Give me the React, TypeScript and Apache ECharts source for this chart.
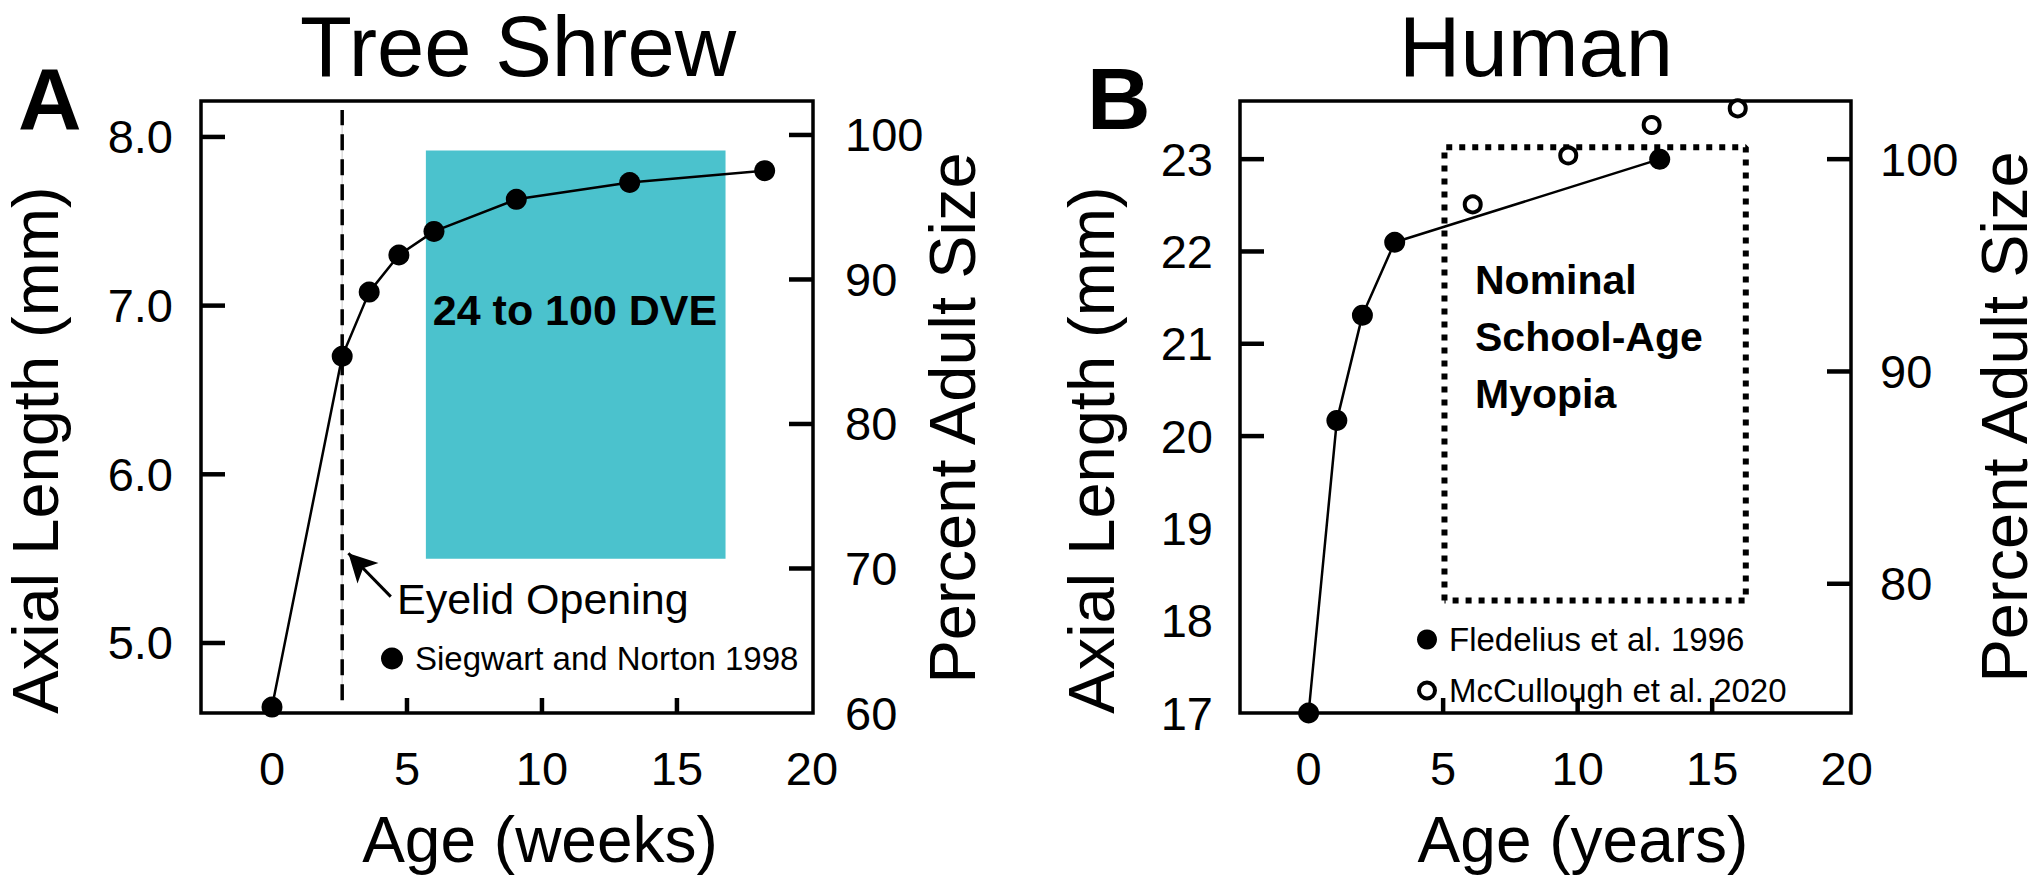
import React, { useEffect, useRef } from "react";
import * as echarts from "echarts";

// ---------- data ----------
const shrewAgeWeeks = [0, 2.6, 3.6, 4.7, 6.0, 9.05, 13.25, 18.25];
const shrewAxialMm = [4.62, 6.7, 7.08, 7.3, 7.44, 7.63, 7.73, 7.8];
const eyelidOpeningWeek = 2.6;
const eyelidLineMm = [4.66, 8.16];
const dveWindowWeeks = [5.7, 16.8];
const dveWindowMm = [5.5, 7.92];
const arrowFrom = [4.4, 5.275];
const arrowTo = [2.83, 5.532];

const fledeliusAgeYears = [0, 1.05, 2.0, 3.2, 13.05];
const fledeliusAxialMm = [17.0, 20.17, 21.31, 22.1, 23.0];
const mcculloughAgeYears = [6.1, 9.65, 12.75, 15.95];
const mcculloughAxialMm = [22.51, 23.04, 23.37, 23.55];
const myopiaBoxYears = [5.05, 16.25];
const myopiaBoxMm = [18.22, 23.13];

const xTickLabels = [0, 5, 10, 15, 20];
const xTickMarks = [5, 10, 15];
const shrewMmTicks = [5, 6, 7, 8];
const shrewPctLabels = [60, 70, 80, 90, 100];
const shrewPctTicks = [70, 80, 90, 100];
const humanMmLabels = [17, 18, 19, 20, 21, 22, 23];
const humanMmTicks = [20, 21, 22, 23];
const humanPctTicks = [80, 90, 100];

// axis ranges
const shrewXRange = [-2.63, 20.04];
const humanXRange = [-2.55, 20.16];
const shrewMmRange = [4.585, 8.213];
const shrewPctRange = [60, 102.35];
const humanMmRange = [17, 23.63];
const humanPctRange = [(17 / 23) * 100, (23.63 / 23) * 100];

const SERIES_A = "Siegwart and Norton 1998";
const SERIES_B1 = "Fledelius et al. 1996";
const SERIES_B2 = "McCullough et al. 2020";

const FONT = '"Liberation Sans", Arial, Helvetica, sans-serif';
const CYAN = "#4BC2CD";
const RING_ICON =
  "path://M10,0 A10,10 0 1,1 10,20 A10,10 0 1,1 10,0 Z M10,4 A6,6 0 1,0 10,16 A6,6 0 1,0 10,4 Z";

const GRID_A = { left: 201, top: 101, width: 612, height: 612 };
const GRID_B = { left: 1240, top: 101, width: 611, height: 612 };
const TICK_LEN_X = 15;
const TICK_LEN_Y = 24;
const TICK_W = 4.5;

const zip = (xs: number[], ys: number[]) => xs.map((x, i) => [x, ys[i]]);

function makeAxis(opts: any) {
  const { labelValues, margin, formatter, verticalAlign, range, ...rest } = opts;
  return {
    type: "value",
    min: range[0],
    max: range[1],
    axisLine: { show: false, onZero: false },
    splitLine: { show: false },
    axisTick: { show: false },
    axisLabel: {
      show: true,
      customValues: labelValues,
      color: "#000",
      fontSize: 47,
      fontFamily: FONT,
      margin,
      formatter,
      verticalAlign,
    },
    ...rest,
  };
}

function text(str: string, x: number, y: number, size: number, extra: any = {}) {
  const { bold, align, rotation, lineHeight } = extra;
  return {
    type: "text",
    x,
    y,
    z: 100,
    rotation: rotation || 0,
    silent: true,
    style: {
      text: str,
      fill: "#000",
      fontSize: size,
      fontFamily: FONT,
      fontWeight: bold ? "bold" : "normal",
      align: align || "center",
      verticalAlign: "middle",
      lineHeight: lineHeight || undefined,
    },
  };
}

// inward tick marks as small filled rectangles, placed with the axes' linear scales
function tickRect(x: number, y: number, width: number, height: number) {
  return {
    type: "rect",
    silent: true,
    z: 90,
    shape: { x, y, width, height },
    style: { fill: "#000" },
  };
}

function panelTickRects(grid: any, xr: number[], ylr: number[], yrr: number[], lt: number[], rt: number[]) {
  const xPix = (v: number) => grid.left + ((v - xr[0]) / (xr[1] - xr[0])) * grid.width;
  const yPix = (v: number, r: number[]) => grid.top + grid.height - ((v - r[0]) / (r[1] - r[0])) * grid.height;
  const bottom = grid.top + grid.height;
  const right = grid.left + grid.width;
  return [
    ...xTickMarks.map((v) => tickRect(xPix(v) - TICK_W / 2, bottom - TICK_LEN_X, TICK_W, TICK_LEN_X)),
    ...lt.map((v) => tickRect(grid.left, yPix(v, ylr) - TICK_W / 2, TICK_LEN_Y, TICK_W)),
    ...rt.map((v) => tickRect(right - TICK_LEN_Y, yPix(v, yrr) - TICK_W / 2, TICK_LEN_Y, TICK_W)),
  ];
}

export default function App() {
  const ref = useRef<HTMLDivElement>(null);

  useEffect(() => {
    if (!ref.current) return;
    const chart = echarts.init(ref.current, null, { renderer: "svg" });

    const texts = [
      text("Tree Shrew", 518, 46, 85),
      text("Human", 1536, 46, 85),
      text("A", 18, 98, 88, { bold: true, align: "left" }),
      text("B", 1087, 98, 88, { bold: true, align: "left" }),
      text("Axial Length (mm)", 35, 450, 65, { rotation: Math.PI / 2 }),
      text("Axial Length (mm)", 1091, 450, 65, { rotation: Math.PI / 2 }),
      text("Percent Adult Size", 952, 418, 65, { rotation: Math.PI / 2 }),
      text("Percent Adult Size", 2004, 417, 65, { rotation: Math.PI / 2 }),
      text("Age (weeks)", 540, 840, 64),
      text("Age (years)", 1583, 840, 64),
      text("24 to 100 DVE", 575, 310, 43, { bold: true }),
      text("Eyelid Opening", 397, 599, 43, { align: "left" }),
      text("Nominal\nSchool-Age\nMyopia", 1475, 337, 41, { bold: true, align: "left", lineHeight: 57 }),
    ];

    const ticks = [
      ...panelTickRects(GRID_A, shrewXRange, shrewMmRange, shrewPctRange, shrewMmTicks, shrewPctTicks),
      ...panelTickRects(GRID_B, humanXRange, humanMmRange, humanPctRange, humanMmTicks, humanPctTicks),
    ];

    const option: any = {
      animation: false,
      backgroundColor: "#fff",
      textStyle: { fontFamily: FONT, color: "#000" },
      grid: [
        { ...GRID_A, show: true, borderColor: "#000", borderWidth: 3.5, backgroundColor: "transparent", outerBoundsMode: "none" },
        { ...GRID_B, show: true, borderColor: "#000", borderWidth: 3.5, backgroundColor: "transparent", outerBoundsMode: "none" },
      ],
      xAxis: [
        makeAxis({ gridIndex: 0, range: shrewXRange, position: "bottom", labelValues: xTickLabels, margin: 55, verticalAlign: "middle" }),
        makeAxis({ gridIndex: 1, range: humanXRange, position: "bottom", labelValues: xTickLabels, margin: 55, verticalAlign: "middle" }),
      ],
      yAxis: [
        makeAxis({ gridIndex: 0, range: shrewMmRange, position: "left", labelValues: shrewMmTicks, margin: 28, formatter: (v: number) => v.toFixed(1) }),
        makeAxis({ gridIndex: 0, range: shrewPctRange, position: "right", labelValues: shrewPctLabels, margin: 32 }),
        makeAxis({ gridIndex: 1, range: humanMmRange, position: "left", labelValues: humanMmLabels, margin: 27 }),
        makeAxis({ gridIndex: 1, range: humanPctRange, position: "right", labelValues: humanPctTicks, margin: 29 }),
      ],
      legend: [
        {
          data: [{ name: SERIES_A, icon: "circle" }],
          left: 381,
          top: 642,
          padding: 0,
          itemWidth: 22,
          itemHeight: 22,
          selectedMode: false,
          textStyle: { fontSize: 33, color: "#000", fontFamily: FONT, padding: [0, 0, 0, 7] },
        },
        {
          data: [
            { name: SERIES_B1, icon: "circle" },
            { name: SERIES_B2, icon: RING_ICON, itemStyle: { color: "#000", borderWidth: 0 } },
          ],
          orient: "vertical",
          left: 1417,
          top: 623,
          padding: 0,
          itemWidth: 20,
          itemHeight: 20,
          itemGap: 18,
          selectedMode: false,
          textStyle: { fontSize: 33, color: "#000", fontFamily: FONT, padding: [0, 0, 0, 7], lineHeight: 20 },
        },
      ],
      series: [
        {
          type: "line",
          xAxisIndex: 0,
          yAxisIndex: 0,
          silent: true,
          symbol: "none",
          data: [[eyelidOpeningWeek, eyelidLineMm[0]], [eyelidOpeningWeek, eyelidLineMm[1]]],
          lineStyle: { color: "#dcdcdc", width: 1.5 },
          markArea: {
            silent: true,
            itemStyle: { color: CYAN, opacity: 1 },
            data: [[{ xAxis: dveWindowWeeks[0], yAxis: dveWindowMm[1] }, { xAxis: dveWindowWeeks[1], yAxis: dveWindowMm[0] }]],
          },
        },
        {
          type: "line",
          xAxisIndex: 0,
          yAxisIndex: 0,
          silent: true,
          symbol: "none",
          data: [[eyelidOpeningWeek, eyelidLineMm[0]], [eyelidOpeningWeek, eyelidLineMm[1]]],
          lineStyle: { color: "#000", width: 3.5, type: [16, 9] },
          markLine: {
            silent: true,
            symbol: ["none", "arrow"],
            symbolSize: [22, 28],
            label: { show: false },
            lineStyle: { color: "#000", width: 3, type: "solid" },
            data: [[{ coord: arrowFrom, symbol: "none" }, { coord: arrowTo, symbol: "arrow" }]],
          },
        },
        {
          name: SERIES_A,
          type: "line",
          xAxisIndex: 0,
          yAxisIndex: 0,
          data: zip(shrewAgeWeeks, shrewAxialMm),
          symbol: "circle",
          symbolSize: 21,
          itemStyle: { color: "#000" },
          lineStyle: { color: "#000", width: 2.5 },
        },
        {
          type: "line",
          xAxisIndex: 1,
          yAxisIndex: 2,
          silent: true,
          symbol: "none",
          data: [
            [myopiaBoxYears[0], myopiaBoxMm[0]],
            [myopiaBoxYears[0], myopiaBoxMm[1]],
            [myopiaBoxYears[1], myopiaBoxMm[1]],
            [myopiaBoxYears[1], myopiaBoxMm[0]],
            [myopiaBoxYears[0], myopiaBoxMm[0]],
          ],
          lineStyle: { color: "#000", width: 6, type: [6, 7] },
        },
        {
          name: SERIES_B1,
          type: "line",
          xAxisIndex: 1,
          yAxisIndex: 2,
          data: zip(fledeliusAgeYears, fledeliusAxialMm),
          symbol: "circle",
          symbolSize: 21,
          itemStyle: { color: "#000" },
          lineStyle: { color: "#000", width: 2.5 },
        },
        {
          name: SERIES_B2,
          type: "scatter",
          xAxisIndex: 1,
          yAxisIndex: 2,
          data: zip(mcculloughAgeYears, mcculloughAxialMm),
          symbol: "circle",
          symbolSize: 16,
          itemStyle: { color: "#fff", borderColor: "#000", borderWidth: 4, opacity: 1 },
          z: 5,
        },
      ],
      graphic: [...texts, ...ticks],
    };

    chart.setOption(option);
    return () => chart.dispose();
  }, []);

  return (
    <div
      ref={ref}
      style={{ position: "fixed", left: 0, top: 0, width: 2040, height: 886, background: "#fff" }}
    />
  );
}
